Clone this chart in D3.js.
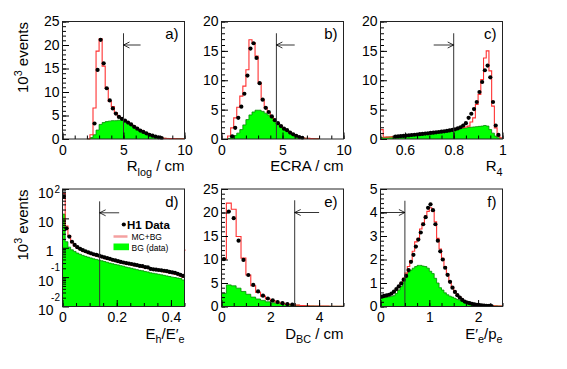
<!DOCTYPE html>
<html><head><meta charset="utf-8">
<script src="https://cdn.jsdelivr.net/npm/d3@7"></script>
<style>body{margin:0;background:#fff}</style>
</head><body><svg id="c" width="567" height="369" xmlns="http://www.w3.org/2000/svg"></svg>
<script>
// ---------- DATA ----------
// a) R_log : bins of 0.25 starting at 2.0
const aStart = 2.0, aW = 0.25;
const aMC   = [0,0.9,6.6,18.7,21.3,15.5,10.8,8.0,6.9,5.6,4.8,4.3,3.9,3.5,3.1,2.7,2.3,1.9,1.55,1.25,0.95,0.72,0.52,0.35,0.22,0.14,0.1,0.08,0.07,0.06,0.05,0.05];
const aBG   = [0,0.3,0.9,1.9,3.1,3.5,3.7,3.8,3.9,3.9,4.0,4.1,3.9,3.5,3.1,2.7,2.3,1.9,1.55,1.25,0.95,0.7,0.5,0.35,0.22,0.15,0.12,0.1,0.1,0.09,0.08,0.08];
const aData = [null,null,3.3,14.7,21.1,16.1,10.8,8.2,6.5,5.4,4.7,4.3,3.9,3.5,3.1,2.6,2.2,1.8,1.5,1.2,0.9,0.7,0.5,0.35,0.2];
// b) ECRA : bins of 0.25 starting at 0.5
const bStart = 0.5, bW = 0.25;
const bMC   = [0.5,1.9,3.6,5.4,7.3,9.0,11.8,16.9,16.4,14.1,9.6,6.7,5.3,4.5,3.8,3.2,2.7,2.2,1.8,1.45,1.1,0.8,0.55,0.35,0.22,0.14,0.1,0.07,0.05,0.04];
const bBG   = [0.1,0.4,0.6,1.0,1.6,2.4,3.3,4.1,4.6,4.9,4.9,4.7,4.4,4.1,3.6,3.1,2.6,2.1,1.7,1.4,1.05,0.75,0.5,0.32,0.2,0.13,0.1,0.07,0.05,0.04];
const bData = [null,0.45,1.9,3.6,5.5,7.7,10.8,15.4,16.3,13.8,9.5,6.7,5.3,4.6,3.85,3.2,2.7,2.2,1.75,1.5,1.1,0.8,0.55,0.33,0.2];
// c) R4 : 45 bins from 0.5 to 1.0
const cStart = 0.5, cW = 1/90;
const cMC   = [1.6,0.3,0.32,0.34,0.36,0.38,0.42,0.46,0.5,0.55,0.6,0.65,0.7,0.75,0.8,0.85,0.9,0.95,1.0,1.05,1.1,1.15,1.2,1.27,1.33,1.4,1.48,1.57,1.7,1.85,1.95,2.05,2.2,2.9,3.6,5.9,7.6,10.1,13.8,15.0,11.6,5.6,1.9,0.5,0.2];
const cBG   = [0.25,0.3,0.33,0.36,0.38,0.4,0.44,0.48,0.52,0.56,0.6,0.65,0.69,0.74,0.78,0.83,0.88,0.92,0.97,1.02,1.07,1.12,1.18,1.24,1.3,1.37,1.45,1.55,1.65,1.75,1.82,1.88,1.95,2.0,2.05,2.1,2.15,2.2,2.3,2.2,1.6,1.0,0.5,0.2,0.05];
const cData = [null,null,null,null,null,0.4,0.44,0.49,0.53,0.58,0.63,0.68,0.72,0.77,0.82,0.87,0.92,0.97,1.03,1.08,1.13,1.19,1.25,1.31,1.38,1.46,1.55,1.65,1.8,2.0,2.3,2.7,3.6,4.3,5.1,6.3,8.0,9.7,11.7,12.5,10.5,6.3,2.3,0.7,null];
// d) Eh/Ee : bins of 0.01 from 0 (last value = overflow bin)
const dStart = 0, dW = 0.01;
const dMC   = [70,5.5,2.6,1.5,1.15,0.97,0.85,0.77,0.7,0.65,0.6,0.56,0.53,0.5,0.47,0.44,0.41,0.39,0.36,0.345,0.325,0.31,0.29,0.28,0.27,0.255,0.245,0.235,0.225,0.215,0.205,0.2,0.185,0.175,0.17,0.165,0.155,0.15,0.145,0.14,0.135,0.125,0.12,0.11,0.1,0.83];
const dBG   = [14,1.6,1.05,0.85,0.75,0.66,0.6,0.55,0.51,0.48,0.45,0.42,0.4,0.38,0.36,0.34,0.32,0.3,0.285,0.27,0.26,0.245,0.235,0.22,0.21,0.2,0.19,0.18,0.17,0.165,0.155,0.15,0.14,0.135,0.13,0.125,0.12,0.115,0.11,0.105,0.1,0.097,0.093,0.09,0.08];
const dData = [55,4.6,2.4,1.6,1.25,1.05,0.92,0.83,0.76,0.7,0.65,0.6,0.57,0.54,0.5,0.47,0.44,0.42,0.39,0.37,0.35,0.33,0.315,0.3,0.29,0.28,0.265,0.255,0.24,0.235,0.22,0.215,0.19,0.185,0.18,0.175,0.17,0.165,0.16,0.15,0.145,0.14,0.13,0.12,0.11];
// e) D_BC : bins of 0.2 from 0
const eStart = 0, eW = 0.2;
const eMC   = [10.1,22.0,20.7,14.9,10.3,6.7,4.4,3.0,2.2,1.6,1.25,0.9,0.68,0.5,0.38,0.3,0.22,0.16,0.12,0.1,0.08,0.07,0.06,0.05,0.05];
const eBG   = [2.8,4.6,4.4,3.9,3.2,2.6,2.0,1.6,1.3,1.0,0.8,0.65,0.5,0.4,0.32,0.26,0.2,0.16,0.13,0.1,0.08,0.07,0.06,0.05,0.05];
const eData = [10.1,20.2,18.8,14.0,9.9,6.7,4.6,3.2,2.3,1.7,1.3,0.95,0.7,0.5,0.38];
// f) E'e/pe : bins of 0.05 from 0
const fStart = 0, fW = 0.05;
const fMC   = [0.4,0.42,0.45,0.5,0.55,0.62,0.72,0.85,1.0,1.2,1.42,1.7,1.95,2.35,2.75,2.9,3.3,3.55,3.85,4.05,4.2,4.05,3.6,2.9,2.45,2.05,1.7,1.35,1.05,0.82,0.65,0.5,0.4,0.31,0.24,0.19,0.15,0.12,0.1,0.08,0.07,0.06,0.05,0.04,0.04,0.03,0.03,0.02,0.02,0.02];
const fBG   = [0.4,0.4,0.41,0.41,0.43,0.46,0.55,0.7,0.85,1.05,1.25,1.45,1.55,1.63,1.7,1.75,1.75,1.72,1.7,1.63,1.5,1.4,1.2,1.0,0.8,0.7,0.58,0.5,0.44,0.4,0.35,0.3,0.27,0.24,0.21,0.19,0.17,0.15,0.13,0.11,0.1,0.08,0.07,0.06,0.05,0.04,0.03,0.03,0.02,0.02];
const fData = [0.42,0.45,0.47,0.5,0.55,0.63,0.74,0.86,0.98,1.14,1.3,1.55,1.9,2.2,2.55,2.85,3.15,3.5,3.8,4.2,4.35,4.1,3.5,2.8,2.35,2.0,1.65,1.35,1.05,0.8,0.62,0.48,0.38,0.28,0.21,0.17,0.14,0.11,0.09,0.07,0.06,0.05,0.04,0.03,0.03,0.02];

// cuts: [cut x, line top, arrow y, arrow end x]
const aCut = [5, 22.5, 20, 6.4];
const bCut = [4.5, 18, 16, 6.0];
const cCut = [0.8, 18, 16, 0.718];
const dCut = [0.137, 38, 15.5, 0.209];
const eCut = [3.0, 22.6, 20, 4.0];
const fCut = [0.5, 4.5, 4.0, 0.0];

// tick labels
const aXTicks = [0,5,10],  aYTicks = [0,5,10,15,20,25];
const bXTicks = [0,5,10],  bYTicks = [0,5,10,15,20];
const cXTicks = [0.6,0.8,1], cYTicks = [0,5,10,15,20];
const dXTicks = [0,0.2,0.4];
const dYTicks = [100,10,1,0.1,0.01];
const dYTickBase = ["10","10","1","10","10"];
const dYTickExp  = ["2","","","-1","-2"];
const eXTicks = [0,2,4],   eYTicks = [0,5,10,15,20,25];
const fXTicks = [0,1,2],   fYTicks = [0,1,2,3,4,5];

const panelLabels = ["a)","b)","c)","d)","e)","f)"];
const legendLabels = ["H1 Data","MC+BG","BG (data)"];
const yTitle = [["10"],["3","sup"],[" events"]];

// ---------- DRAWING ----------
const FONT = "'Liberation Sans', Arial, Helvetica, sans-serif";
const svg = d3.select("#c");
const FW = 122, FH = 117.5;
const cols = [62, 221, 380], rows = [21.5, 189];

const panels = [
 {id:"a", col:0,row:0, xd:[0,10], yd:[0,25], start:aStart,w:aW, mc:aMC,bg:aBG,data:aData, xt:aXTicks, xm:1, yt:aYTicks, ym:1, cut:aCut,
  title:[["R"],["log","sub"],[" / cm"]], ytitle:true},
 {id:"b", col:1,row:0, xd:[0,10], yd:[0,20], start:bStart,w:bW, mc:bMC,bg:bBG,data:bData, xt:bXTicks, xm:1, yt:bYTicks, ym:1, cut:bCut,
  title:[["ECRA / cm"]]},
 {id:"c", col:2,row:0, xd:[0.5,1], yd:[0,20], start:cStart,w:cW, mc:cMC,bg:cBG,data:cData, xt:cXTicks, xm:0.05, yt:cYTicks, ym:1, cut:cCut,
  title:[["R"],["4","sub"]]},
 {id:"d", col:0,row:1, xd:[0,0.45], yd:[0.01,100], log:true, start:dStart,w:dW, mc:dMC,bg:dBG,data:dData, xt:dXTicks, xm:0.05, cut:dCut,
  title:[["E"],["h","sub"],["/E\u2032"],["e","sub"]], ytitle:true, legend:true},
 {id:"e", col:1,row:1, xd:[0,5], yd:[0,25], start:eStart,w:eW, mc:eMC,bg:eBG,data:eData, xt:eXTicks, xm:0.5, yt:eYTicks, ym:1, cut:eCut,
  title:[["D"],["BC","sub"],[" / cm"]]},
 {id:"f", col:2,row:1, xd:[0,2.5], yd:[0,5], start:fStart,w:fW, mc:fMC,bg:fBG,data:fData, xt:fXTicks, xm:0.25, yt:fYTicks, ym:0.2, cut:fCut,
  title:[["E\u2032"],["e","sub"],["/p"],["e","sub"]]}
];

function rich(t, parts, fs) {
  let shift = 0;
  parts.forEach(([s, kind]) => {
    const target = kind === "sub" ? fs*0.32 : kind === "sup" ? -fs*0.42 : 0;
    const ts = t.append("tspan").text(s).attr("dy", target - shift);
    if (kind) ts.attr("font-size", fs*0.72);
    shift = target;
  });
}

panels.forEach((p, pi) => {
  const X0 = cols[p.col] + 0.5, Y0 = rows[p.row];
  const g = svg.append("g").attr("transform", `translate(${X0},${Y0})`);
  const x = d3.scaleLinear().domain(p.xd).range([0, FW]);
  const y = (p.log ? d3.scaleLog() : d3.scaleLinear()).domain(p.yd).range([FH, 0]);
  const base = p.yd[0];
  const v = d => (d == null || d <= base) ? base : d;
  const edge = i => p.start + i * p.w;

  const clip = "clip" + p.id;
  g.append("clipPath").attr("id", clip).append("rect")
    .attr("x", -0.5).attr("y", -0.5).attr("width", FW + 1.5).attr("height", FH + 1);
  const body = g.append("g").attr("clip-path", `url(#${clip})`);

  const steps = arr => {
    const pts = [[edge(0), base]];
    arr.forEach((d, i) => { pts.push([edge(i), v(d)], [edge(i + 1), v(d)]); });
    pts.push([edge(arr.length), base]);
    return pts;
  };
  const line = d3.line().x(d => x(d[0])).y(d => y(d[1]));
  const area = d3.area().x(d => x(d[0])).y0(y(base)).y1(d => y(d[1]));

  const bgPts = steps(p.bg);
  body.append("path").datum(bgPts).attr("d", area).attr("fill", "#00ff00");
  body.append("path").datum(bgPts).attr("d", line).attr("fill", "none")
    .attr("stroke", "#008a00").attr("stroke-width", 0.8);
  body.append("path").datum(steps(p.mc)).attr("d", line).attr("fill", "none")
    .attr("stroke", "#ff3030").attr("stroke-width", 1.1);

  const pts = p.data.map((d, i) => ({x: edge(i) + p.w / 2, y: d})).filter(d => d.y != null);
  body.selectAll("circle").data(pts).join("circle")
    .attr("cx", d => x(d.x)).attr("cy", d => y(d.y)).attr("r", 2.1).attr("fill", "#000");

  // cut line + arrow
  const [cx, ctop, ay, aend] = p.cut;
  g.append("line").attr("x1", x(cx)).attr("x2", x(cx)).attr("y1", y(ctop)).attr("y2", FH)
    .attr("stroke", "#333").attr("stroke-width", 1);
  const dir = aend > cx ? 1 : -1;
  g.append("line").attr("x1", x(cx)).attr("x2", x(aend)).attr("y1", y(ay)).attr("y2", y(ay))
    .attr("stroke", "#000").attr("stroke-width", 0.8);
  g.append("path").attr("d", `M${x(cx) + dir*6},${y(ay) - 3}L${x(cx)},${y(ay)}L${x(cx) + dir*6},${y(ay) + 3}`)
    .attr("fill", "none").attr("stroke", "#000").attr("stroke-width", 0.8);

  // x axis
  const minorX = d3.range(p.xd[0], p.xd[1] + 1e-9, p.xm);
  const gxm = g.append("g").attr("transform", `translate(0,${FH})`)
    .call(d3.axisBottom(x).tickValues(minorX).tickSize(-3.5).tickFormat(""));
  const gx = g.append("g").attr("transform", `translate(0,${FH})`)
    .call(d3.axisBottom(x).tickValues(p.xt).tickSize(-6.5).tickPadding(6).tickFormat(d3.format("~g")));
  [gxm, gx].forEach(s => s.select(".domain").remove());
  gx.selectAll("text").attr("font-size", 14).attr("font-family", FONT).attr("fill", "#000");

  // y axis
  if (!p.log) {
    const minorY = d3.range(p.yd[0], p.yd[1] + 1e-9, p.ym);
    const gym = g.append("g").call(d3.axisLeft(y).tickValues(minorY).tickSize(-3.5).tickFormat(""));
    const gy = g.append("g").call(d3.axisLeft(y).tickValues(p.yt).tickSize(-6.5).tickPadding(3).tickFormat(d3.format("~g")));
    [gym, gy].forEach(s => s.select(".domain").remove());
    gy.selectAll("text").attr("font-size", 14).attr("font-family", FONT).attr("fill", "#000");
  } else {
    const minorY = [];
    [0.01, 0.1, 1, 10].forEach(d => { for (let k = 2; k <= 9; k++) minorY.push(d * k); });
    const gym = g.append("g").call(d3.axisLeft(y).tickValues(minorY).tickSize(-3.5).tickFormat(""));
    const gy = g.append("g").call(d3.axisLeft(y).tickValues(dYTicks).tickSize(-6.5).tickFormat(""));
    [gym, gy].forEach(s => s.select(".domain").remove());
    dYTicks.forEach((t, i) => {
      g.append("text").attr("x", -9).attr("y", y(t) + 8.5).attr("text-anchor", "end")
        .attr("font-size", 14).attr("font-family", FONT).text(dYTickBase[i]);
      if (dYTickExp[i]) {
        const neg = dYTickExp[i].startsWith("-");
        g.append("text").attr("x", -2.5).attr("y", y(t) + (neg ? -6 : 3.5)).attr("text-anchor", "end")
          .attr("font-size", 10).attr("font-family", FONT).text(dYTickExp[i]);
      }
    });
  }

  // frame
  g.append("rect").attr("width", FW).attr("height", FH).attr("fill", "none")
    .attr("stroke", "#222").attr("stroke-width", 1);

  // panel label
  g.append("text").attr("x", FW - 6).attr("y", 17.5).attr("text-anchor", "end")
    .attr("font-size", 15).attr("font-family", FONT).text(panelLabels[pi]);

  // x title
  const xt = g.append("text").attr("x", FW).attr("y", FH + 32).attr("text-anchor", "end")
    .attr("font-size", 15).attr("font-family", FONT);
  rich(xt, p.title, 15);

  // y title
  if (p.ytitle) {
    const yt = svg.append("text").attr("transform", `translate(28,${Y0 + 36}) rotate(-90)`)
      .attr("text-anchor", "middle").attr("font-size", 15).attr("font-family", FONT);
    rich(yt, yTitle, 15);
  }

  // legend
  if (p.legend) {
    g.append("circle").attr("cx", 61.3).attr("cy", 35.5).attr("r", 2.1);
    g.append("text").attr("x", 64.5).attr("y", 39.5).attr("font-size", 11.5).attr("font-weight", "bold")
      .attr("font-family", FONT).text(legendLabels[0]);
    g.append("line").attr("x1", 51).attr("x2", 65).attr("y1", 47.5).attr("y2", 47.5)
      .attr("stroke", "#f4a0a0").attr("stroke-width", 2.5);
    g.append("text").attr("x", 69).attr("y", 50.5).attr("font-size", 8.5).attr("font-family", FONT).text(legendLabels[1]);
    g.append("rect").attr("x", 51).attr("y", 54.5).attr("width", 15.5).attr("height", 6.7).attr("fill", "#00ff00");
    g.append("text").attr("x", 69).attr("y", 61.5).attr("font-size", 8.5).attr("font-family", FONT).text(legendLabels[2]);
  }
});
</script>
</body></html>
